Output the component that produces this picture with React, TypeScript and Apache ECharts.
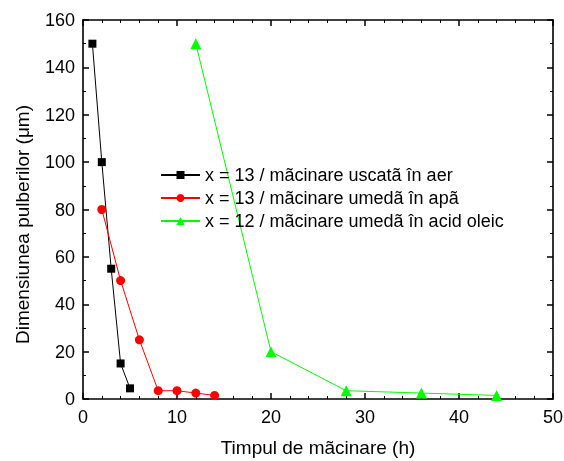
import React, { useEffect, useRef } from "react";
import * as echarts from "echarts";

const seriesNames = [
  "x = 13 / mãcinare uscatã în aer",
  "x = 13 / mãcinare umedã în apã",
  "x = 12 / mãcinare umedã în acid oleic",
];
const dryX = [1, 2, 3, 4, 5];
const dryY = [150, 100, 55, 15, 4.5];
const waterX = [2, 4, 6, 8, 10, 12, 14];
const waterY = [80, 50, 25, 3.5, 3.5, 2.5, 1.5];
const oleicX = [12, 20, 28, 36, 44];
const oleicY = [150, 20, 3.5, 2.5, 1.5];
const xTitle = "Timpul de mãcinare (h)";
const yTitle = "Dimensiunea pulberilor (μm)";

const zip = (xs: number[], ys: number[]) => xs.map((x, i) => [x, ys[i]]);

export default function App() {
  const ref = useRef<HTMLDivElement>(null);
  useEffect(() => {
    if (!ref.current) return;
    const chart = echarts.init(ref.current, undefined, { renderer: "svg" });
    const font = "'Liberation Sans', Arial, sans-serif";
    const axisLine = { show: true, onZero: false, lineStyle: { color: "#000", width: 1.6 } };
    const axisTick = { show: true, inside: true, length: 6, lineStyle: { color: "#000", width: 1.5 } };
    const minor = (n: number) => ({ show: true, splitNumber: n, length: 3, lineStyle: { color: "#000", width: 1 } });
    chart.setOption({
      animation: false,
      textStyle: { fontFamily: font },
      grid: { left: 83, top: 20, width: 470, height: 379, containLabel: false, outerBoundsMode: "none" },
      legend: {
        orient: "vertical",
        left: 160,
        top: 166,
        padding: 0,
        itemWidth: 39,
        itemHeight: 10,
        itemGap: 5,
        data: seriesNames,
        textStyle: { fontFamily: font, fontSize: 18, color: "#000" },
      },
      xAxis: [
        {
          type: "value",
          min: 0,
          max: 50,
          interval: 10,
          position: "bottom",
          name: xTitle,
          nameLocation: "middle",
          nameGap: 39,
          nameTextStyle: { fontFamily: font, fontSize: 19, color: "#000" },
          axisLabel: { fontFamily: font, fontSize: 18, color: "#000", margin: 9 },
          minorTick: minor(5),
          axisLine,
          axisTick,
          splitLine: { show: false },
        },
        {
          type: "value",
          min: 0,
          max: 50,
          interval: 10,
          position: "top",
          axisLabel: { show: false },
          minorTick: minor(5),
          axisLine,
          axisTick,
          splitLine: { show: false },
        },
      ],
      yAxis: [
        {
          type: "value",
          min: 0,
          max: 160,
          interval: 20,
          position: "left",
          name: yTitle,
          nameLocation: "middle",
          nameGap: 51,
          nameTextStyle: { fontFamily: font, fontSize: 19, color: "#000", padding: [0, 30, 0, 0] },
          axisLabel: { fontFamily: font, fontSize: 18, color: "#000", margin: 8 },
          minorTick: minor(2),
          axisLine,
          axisTick,
          splitLine: { show: false },
        },
        {
          type: "value",
          min: 0,
          max: 160,
          interval: 20,
          position: "right",
          axisLabel: { show: false },
          minorTick: minor(2),
          axisLine,
          axisTick,
          splitLine: { show: false },
        },
      ],
      series: [
        {
          name: seriesNames[0],
          type: "line",
          data: zip(dryX, dryY),
          symbol: "rect",
          symbolSize: 8,
          itemStyle: { color: "#000" },
          lineStyle: { color: "#000", width: 1 },
        },
        {
          name: seriesNames[1],
          type: "line",
          data: zip(waterX, waterY),
          symbol: "circle",
          symbolSize: 9,
          itemStyle: { color: "#ff0000" },
          lineStyle: { color: "#ff0000", width: 1 },
        },
        {
          name: seriesNames[2],
          type: "line",
          data: zip(oleicX, oleicY),
          symbol: "triangle",
          symbolSize: 11,
          itemStyle: { color: "#00ff00" },
          lineStyle: { color: "#00ff00", width: 1 },
        },
      ],
    });
    return () => chart.dispose();
  }, []);
  return <div ref={ref} style={{ position: "fixed", left: 0, top: 0, width: 564, height: 461 }} />;
}
